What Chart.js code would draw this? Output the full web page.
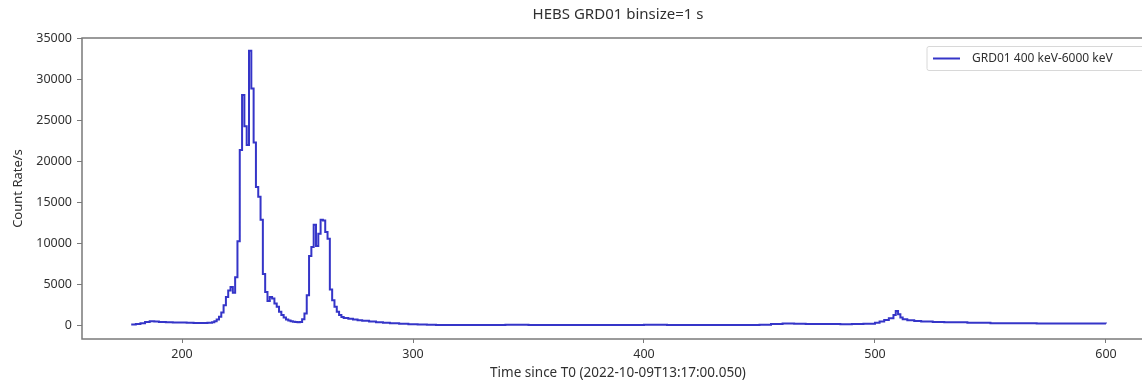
<!DOCTYPE html>
<html>
<head>
<meta charset="utf-8">
<script src="https://cdn.jsdelivr.net/npm/chart.js@4.4.1/dist/chart.umd.min.js"></script>
<style>
  html, body { margin: 0; padding: 0; background: #ffffff; overflow: hidden; }
  #wrap { width: 1142px; height: 381px; overflow: hidden; }
  canvas { display: block; }
</style>
</head>
<body>
<div id="wrap"><canvas id="lc" width="1160" height="381"></canvas></div>
<script>
// Light curve of HEBS GRD01, 1 s bins, 400 keV - 6000 keV
const titleText = 'HEBS GRD01 binsize=1 s';
const seriesLabel = 'GRD01 400 keV-6000 keV';
const xTitle = 'Time since T0 (2022-10-09T13:17:00.050)';
const yTitle = 'Count Rate/s';

// bin start times (s) and count rates (counts/s)
const times = [
  178, 180, 182, 184, 186, 188, 190, 193, 196, 199, 202, 205, 208, 211, 213,
  214, 215, 216, 217, 218, 219, 220, 221, 222, 223, 224, 225, 226, 227, 228,
  229, 230, 231, 232, 233, 234, 235, 236, 237, 238, 239, 240, 241, 242, 243,
  244, 245, 246, 247, 248, 249, 250, 251, 252, 253, 254, 255, 256, 257, 258,
  259, 260, 261, 262, 263, 264, 265, 266, 267, 268, 269, 270, 272, 274, 276,
  278, 281, 284, 287, 290, 294, 298, 302, 306, 310, 320, 330, 340, 350, 360,
  370, 380, 390, 400, 410, 420, 430, 440, 450, 455, 460, 465, 470, 475, 480,
  485, 490, 495, 500, 502, 504, 506, 508, 509, 510, 511, 512, 514, 517, 520,
  525, 530, 540, 550, 560, 570, 580, 590, 600
];
const counts = [
  150, 200, 300, 450, 550, 500, 450, 420, 400, 380, 360, 340, 330, 350, 420,
  550, 750, 1100, 1600, 2500, 3500, 4300, 4700, 4000, 5900, 10300, 21400, 28100, 24300, 22000,
  33500, 28900, 22300, 16900, 15700, 12900, 6300, 4100, 3000, 3500, 3300, 2700, 2300, 1700, 1300,
  1000, 750, 620, 540, 480, 440, 420, 450, 800, 1500, 3700, 8500, 9600, 12300, 9700,
  11200, 12900, 12800, 11400, 10600, 4400, 3100, 2300, 1700, 1300, 1050, 950, 850, 750, 650,
  600, 500, 420, 360, 300, 240, 190, 140, 110, 100, 100, 95, 110, 100, 90,
  100, 95, 100, 105, 95, 100, 90, 100, 110, 220, 260, 240, 200, 220, 200,
  190, 200, 230, 350, 500, 700, 900, 1300, 1800, 1400, 1000, 800, 650, 560, 500,
  450, 420, 350, 310, 300, 280, 280, 270, 260
];

const xTicks = [200, 300, 400, 500, 600];
const yTicks = [0, 5000, 10000, 15000, 20000, 25000, 30000, 35000];

const FONT = 'Noto Sans, DejaVu Sans, sans-serif';
const TEXT = '#303030';
const FRAME = '#7a7a7a';
const LINE = '#3535c8';

const points = times.map((t, i) => ({ x: t, y: counts[i] }));

// box around the plot area plus the in-plot legend
const frameAndLegend = {
  id: 'frameAndLegend',
  afterDraw(chart) {
    const { ctx, chartArea: a } = chart;
    ctx.save();
    ctx.strokeStyle = FRAME;
    ctx.lineWidth = 1.5;
    ctx.strokeRect(a.left, a.top, a.right - a.left, a.bottom - a.top);

    const bw = 221, bh = 24;
    const bx = a.right - 6 - bw, by = a.top + 8.5;
    ctx.fillStyle = 'rgba(255,255,255,0.85)';
    ctx.strokeStyle = '#d8d8d8';
    ctx.lineWidth = 1;
    ctx.beginPath();
    ctx.roundRect(bx, by, bw, bh, 2);
    ctx.fill();
    ctx.stroke();

    const ly = by + bh / 2;
    ctx.strokeStyle = LINE;
    ctx.lineWidth = 2;
    ctx.beginPath();
    ctx.moveTo(bx + 6, ly);
    ctx.lineTo(bx + 33, ly);
    ctx.stroke();

    ctx.fillStyle = TEXT;
    ctx.font = '12px ' + FONT;
    ctx.textBaseline = 'middle';
    ctx.textAlign = 'left';
    ctx.fillText(seriesLabel, bx + 45, ly);
    ctx.restore();
  }
};

new Chart(document.getElementById('lc'), {
  type: 'line',
  data: {
    datasets: [{
      label: seriesLabel,
      data: points,
      borderColor: LINE,
      borderWidth: 2,
      pointRadius: 0,
      stepped: true,
      fill: false
    }]
  },
  options: {
    responsive: false,
    animation: false,
    layout: { padding: { left: 0, right: 6, top: 0, bottom: 0 } },
    plugins: {
      legend: { display: false },
      tooltip: { enabled: false },
      title: {
        display: true,
        text: titleText,
        fullSize: false,
        color: TEXT,
        font: { family: FONT, size: 15, weight: 'normal', lineHeight: 1.2 },
        padding: { top: 6, bottom: 14 }
      }
    },
    scales: {
      x: {
        type: 'linear',
        min: 156.7,
        max: 620.8,
        afterBuildTicks: s => { s.ticks = xTicks.map(v => ({ value: v })); },
        afterFit: s => { s.height = 42; },
        grid: { display: true, drawOnChartArea: false, drawTicks: true, tickLength: 4, tickColor: FRAME },
        border: { display: false },
        ticks: { padding: 4, color: TEXT, font: { family: FONT, size: 12.5 }, maxRotation: 0 },
        title: { display: true, text: xTitle, color: TEXT, font: { family: FONT, size: 13.5, lineHeight: 1.1 }, padding: { top: 0, bottom: 0 } }
      },
      y: {
        type: 'linear',
        min: -1620,
        max: 35040,
        afterBuildTicks: s => { s.ticks = yTicks.map(v => ({ value: v })); },
        afterFit: s => { s.width = 82; },
        grid: { display: true, drawOnChartArea: false, drawTicks: true, tickLength: 5, tickColor: FRAME },
        border: { display: false },
        ticks: { padding: 5, color: TEXT, font: { family: FONT, size: 12.5 }, callback: v => String(v) },
        title: { display: true, text: yTitle, color: TEXT, font: { family: FONT, size: 13, lineHeight: 1.2 }, padding: { top: 10, bottom: 0 } }
      }
    }
  },
  plugins: [frameAndLegend]
});
</script>
</body>
</html>
